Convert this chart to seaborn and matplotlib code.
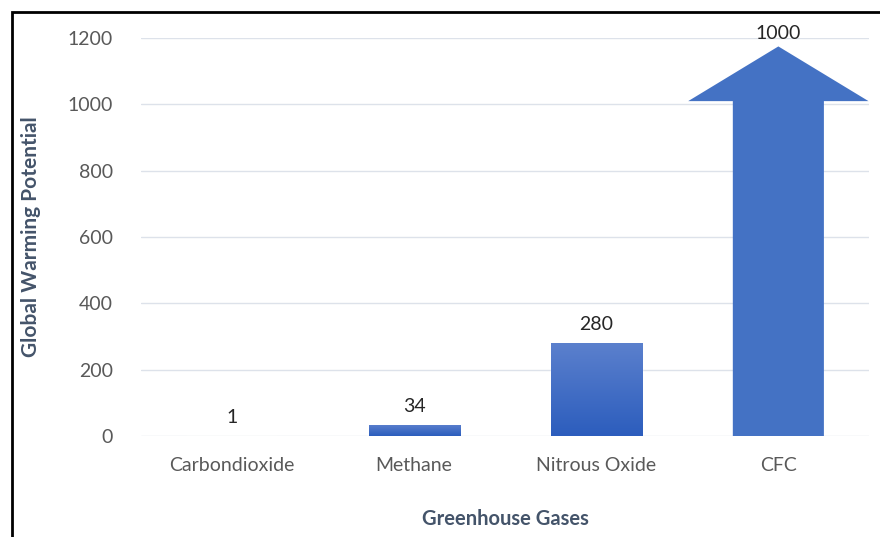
import matplotlib.pyplot as plt
import numpy as np
import seaborn as sns
from matplotlib.colors import LinearSegmentedColormap
from matplotlib.patches import Polygon, Rectangle

sns.set_theme(style="white")
plt.rcParams["font.family"] = ["Lato", "DejaVu Sans"]

gases = ["Carbondioxide", "Methane", "Nitrous Oxide", "CFC"]
gwp = [1, 34, 280, 1000]
y_ticks = [0, 200, 400, 600, 800, 1000, 1200]

tick_color = "#595959"
label_color = "#44546A"
grad = LinearSegmentedColormap.from_list("bar_grad", ["#2C5DBD", "#5B80CD"])

fig = plt.figure(figsize=(8.8, 5.37), dpi=100)
ax = fig.add_axes([0.160, 0.188, 0.828, 0.741])

sns.barplot(x=gases, y=gwp, width=0.5, color="#4472C4", ax=ax, zorder=3)

ax.set_ylim(0, 1200)
ax.set_xlim(-0.5, 3.5)
ax.set_yticks(y_ticks)
ax.yaxis.grid(True, color="#DDE2EA", linewidth=1, zorder=0)
ax.set_axisbelow(True)
for s in ax.spines.values():
    s.set_visible(False)
ax.tick_params(axis="both", length=0, labelsize=14, colors=tick_color)
ax.tick_params(axis="y", pad=20)
ax.tick_params(axis="x", pad=15)

# gradient fill for the normal bars, arrow for the last one
for i, (patch, val) in enumerate(zip(ax.patches, gwp)):
    x0 = patch.get_x()
    w = patch.get_width()
    if i < len(gwp) - 1:
        img = ax.imshow(
            np.linspace(0, 1, 256).reshape(-1, 1),
            cmap=grad,
            origin="lower",
            extent=(x0, x0 + w, 0, max(val, 1)),
            aspect="auto",
            zorder=3,
        )
        img.set_clip_path(patch)
        top = val
    else:
        patch.set_visible(False)
        cx = x0 + w / 2
        shaft_top = val + 10
        tip = val + 175
        half_head = 0.495
        arrow = Polygon(
            [
                (x0, 0),
                (x0 + w, 0),
                (x0 + w, shaft_top),
                (cx + half_head, shaft_top),
                (cx, tip),
                (cx - half_head, shaft_top),
                (x0, shaft_top),
            ],
            closed=True,
            facecolor="#4472C4",
            edgecolor="none",
            zorder=3,
        )
        ax.add_patch(arrow)
        top = tip
    ax.annotate(
        str(val),
        (x0 + w / 2, top),
        xytext=(0, 3 if i == len(gwp) - 1 else 7),
        textcoords="offset points",
        ha="center",
        va="bottom",
        fontsize=14,
        color="#262626",
        zorder=4,
    )

ax.set_ylim(0, 1200)
ax.set_xlabel("Greenhouse Gases", fontsize=14.5, fontweight="bold",
              color=label_color, labelpad=25)
ax.set_ylabel("Global Warming Potential", fontsize=15, fontweight="bold",
              color=label_color, labelpad=19)

# chart frame (left and top edges visible)
fig.patches.append(
    Rectangle((12 / 880, -0.1), 1.2, 1 - 12 / 537 + 0.1,
              transform=fig.transFigure, fill=False,
              edgecolor="black", linewidth=2, zorder=0)
)

fig.savefig("out.png", dpi=100)
